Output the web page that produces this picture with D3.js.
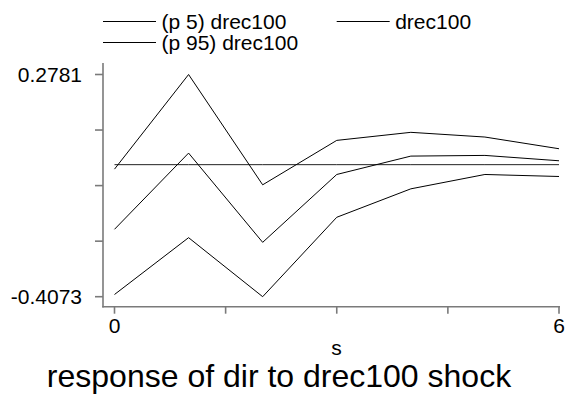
<!DOCTYPE html>
<html>
<head>
<meta charset="utf-8">
<script src="https://cdn.jsdelivr.net/npm/d3@7"></script>
<style>
  html, body { margin: 0; padding: 0; background: #fff; }
  svg { display: block; font-family: "Liberation Sans", Arial, sans-serif; }
</style>
</head>
<body>
<svg id="chart" width="569" height="397"></svg>
<script>
// Impulse response: step s = 0..6
const steps = [0, 1, 2, 3, 4, 5, 6];
const p5 = [-0.4005, -0.2252, -0.4073, -0.1623, -0.0746, -0.0303, -0.0365];
const irf = [-0.1994, 0.0357, -0.2396, -0.0303, 0.0264, 0.0285, 0.0120];
const p95 = [-0.0138, 0.2781, -0.0622, 0.0749, 0.0997, 0.0852, 0.0491];
const zeroLine = [0, 0, 0, 0, 0, 0, 0];

const yTicks = [0.2781, 0.1068, -0.0646, -0.2360, -0.4073];
const yTickLabels = ["0.2781", "", "", "", "-0.4073"];
const xTicks = [0, 1.5, 3, 4.5, 6];
const xTickLabels = ["0", "", "", "", "6"];

const legendItems = [
  { label: "(p 5) drec100", col: 0, row: 0 },
  { label: "drec100", col: 1, row: 0 },
  { label: "(p 95) drec100", col: 0, row: 1 }
];

const svg = d3.select("#chart");
const axisColor = "#7a7a7a";

const x = d3.scaleLinear().domain([0, 6]).range([114.5, 559]);
const y = d3.scaleLinear().domain([-0.4073, 0.2781]).range([296.7, 74.5]);

// y axis
const yAxis = svg.append("g").attr("transform", "translate(103,0)");
yAxis.append("line").attr("x1", 0).attr("x2", 0).attr("y1", 63).attr("y2", 307.5)
  .attr("stroke", axisColor).attr("stroke-width", 1.6);
yAxis.selectAll("line.tick").data(yTicks).join("line").attr("class", "tick")
  .attr("x1", -8).attr("x2", 0)
  .attr("y1", d => y(d)).attr("y2", d => y(d))
  .attr("stroke", axisColor).attr("stroke-width", 1.6);
yAxis.selectAll("text").data(yTicks).join("text")
  .attr("x", -21).attr("y", d => y(d)).attr("dy", "0.36em")
  .attr("text-anchor", "end").attr("font-size", 21).attr("fill", "#000")
  .text((d, i) => yTickLabels[i]);

// x axis
const xAxis = svg.append("g").attr("transform", "translate(0,306.7)");
xAxis.append("line").attr("x1", 102.2).attr("x2", 560).attr("y1", 0).attr("y2", 0)
  .attr("stroke", axisColor).attr("stroke-width", 1.6);
xAxis.selectAll("line.tick").data(xTicks).join("line").attr("class", "tick")
  .attr("x1", d => x(d)).attr("x2", d => x(d)).attr("y1", 0).attr("y2", 7)
  .attr("stroke", axisColor).attr("stroke-width", 1.6);
xAxis.selectAll("text").data(xTicks).join("text")
  .attr("x", d => x(d)).attr("y", 26.5)
  .attr("text-anchor", "middle").attr("font-size", 21).attr("fill", "#000")
  .text((d, i) => xTickLabels[i]);

// axis title and chart title
svg.append("text").attr("x", 336.5).attr("y", 355).attr("text-anchor", "middle")
  .attr("font-size", 21).attr("fill", "#000").text("s");
svg.append("text").attr("x", 279).attr("y", 387).attr("text-anchor", "middle")
  .attr("font-size", 32).attr("fill", "#000").text("response of dir to drec100 shock");

// zero reference and series
const line = d3.line().x((d, i) => x(steps[i])).y(d => y(d));
svg.append("path").datum(zeroLine).attr("d", line)
  .attr("fill", "none").attr("stroke", "#222").attr("stroke-width", 1);
[p5, irf, p95].forEach(s => {
  svg.append("path").datum(s).attr("d", line)
    .attr("fill", "none").attr("stroke", "#000").attr("stroke-width", 1);
});

// legend
const legend = svg.append("g");
const colX = [103, 336.7];
const rowY = [21.5, 42.5];
legendItems.forEach(it => {
  const lx = colX[it.col], ly = rowY[it.row];
  legend.append("line").attr("x1", lx).attr("x2", lx + 53).attr("y1", ly).attr("y2", ly)
    .attr("stroke", "#000").attr("stroke-width", 1);
  legend.append("text").attr("x", lx + 58.5).attr("y", ly).attr("dy", "0.34em")
    .attr("font-size", 21).attr("fill", "#000").text(it.label);
});
</script>
</body>
</html>
